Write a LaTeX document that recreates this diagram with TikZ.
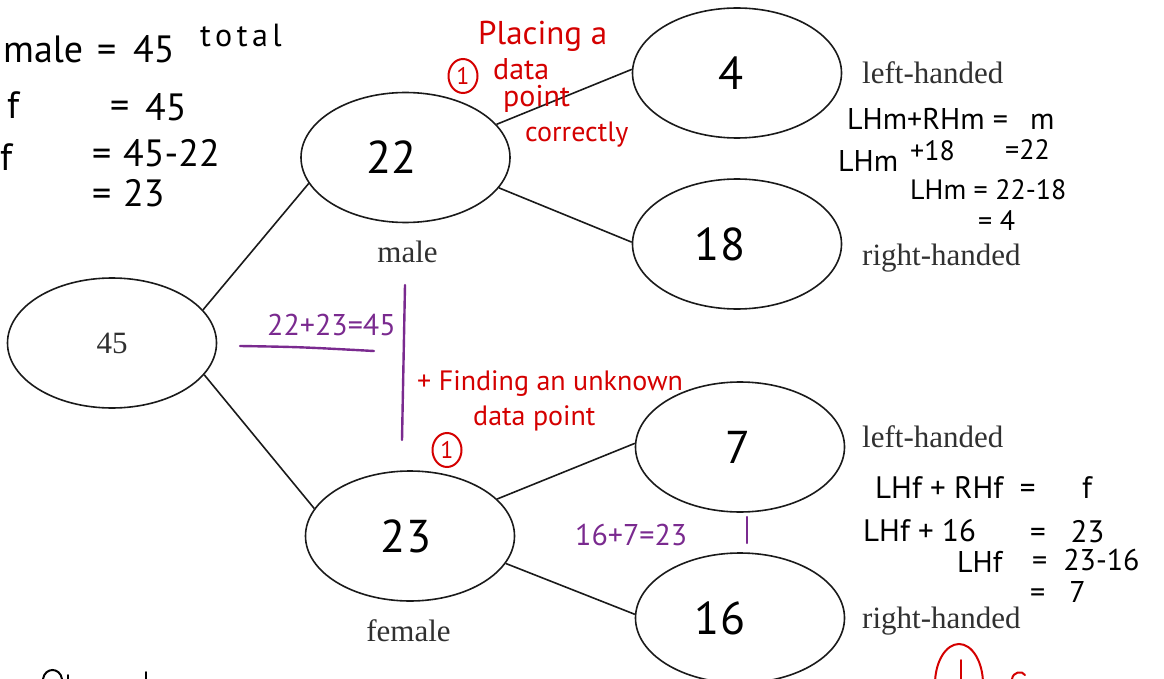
\documentclass[tikz,border=0pt]{standalone}
\usepackage{fontspec}
\usetikzlibrary{shapes.geometric}
\newfontfamily\hwfont{PT Sans}
\newfontfamily\hwwide{PT Sans}[LetterSpace=14]
\newfontfamily\prfont{Liberation Serif}
\definecolor{hred}{HTML}{D40000}
\definecolor{hpurple}{HTML}{7A2A8F}
\definecolor{prgray}{HTML}{303030}
\definecolor{inkblack}{HTML}{1A1A1A}
\tikzset{
  oval/.style={ellipse, draw=inkblack, line width=1.6pt, minimum width=209pt,
    minimum height=130pt, inner sep=0pt, text=black,
    font=\hwfont\fontsize{46}{46}\selectfont},
  oval45/.style={oval, font=\prfont\fontsize{31}{31}\selectfont, text=prgray},
  branch/.style={line width=1.6pt, draw=inkblack},
  prlabel/.style={font=\prfont\fontsize{31}{31}\selectfont, text=prgray,
    inner sep=0pt, anchor=base west},
  hw/.style={font=\hwfont\fontsize{#1}{#1}\selectfont, inner sep=0pt,
    anchor=base west, text=black},
  hw/.default=30,
  redhw/.style={hw=#1, text=hred},
  redhw/.default=30,
  purhw/.style={hw=#1, text=hpurple},
  purhw/.default=30,
  redpen/.style={draw=hred, line width=2pt, line cap=round},
  purpen/.style={draw=hpurple, line width=2.4pt, line cap=round},
  blkpen/.style={draw=black, line width=2pt, line cap=round},
  ringone/.style={ellipse, draw=hred, line width=2pt, inner sep=0pt,
    minimum width=29pt, minimum height=34pt, text=hred,
    font=\hwfont\fontsize{24}{24}\selectfont},
}
\begin{document}
\begin{tikzpicture}[x=1pt,y=-1pt]
\useasboundingbox (0,0) rectangle (1164,679);
\clip (0,0) rectangle (1164,679);

% tree nodes
\node[oval45] (n45) at (112,343) {45};
\node[oval] (n22) at (405.5,157.5) {22\kern28pt};
\node[oval] (n23) at (410,536) {23\kern8pt};
\node[oval] (n4) at (737,73) {4\kern12pt};
\node[oval] (n18) at (737,244) {18\kern34pt};
\node[oval] (n7) at (740,447) {7\kern4pt};
\node[oval] (n16) at (740,618) {16\kern40pt};

% branches
\draw[branch] (n45.20) -- (n22.195);
\draw[branch] (n45.-19) -- (n23.164);
\draw[branch] (n22.20) -- (n4.178);
\draw[branch] (n22.-18) -- (n18.179);
\draw[branch] (n23.23) -- (n7.178);
\draw[branch] (n23.-16) -- (n16.178);

% printed labels
\node[prlabel, anchor=base] (lmale) at (407.5,262) {male};
\node[prlabel, anchor=base] (lfemale) at (408.5,641) {female};
\node[prlabel] (lh1) at (862,84) {left-handed};
\node[prlabel] (rh1) at (862,265) {right-handed};
\node[prlabel] (lh2) at (862,447) {left-handed};
\node[prlabel] (rh2) at (862,628) {right-handed};

% top-left working
\node[hw=38] (t1a) at (3,63) {male};
\node[hw=38] (t1b) at (97,63) {=};
\node[hw=38] (t1c) at (133,63) {45};
\node[hw=32, font=\hwwide\fontsize{32}{32}\selectfont] (t1d) at (200,47) {total};
\node[hw=38] (t2a) at (7,119) {f};
\node[hw=38] (t2b) at (110,119) {=};
\node[hw=38] (t2c) at (145,121) {45};
\node[hw=38] (t3a) at (0,171) {f};
\node[hw=38] (t3b) at (92,167) {=};
\node[hw=38] (t3c) at (123,167) {45-22};
\node[hw=38] (t4b) at (92,207) {=};
\node[hw=38] (t4c) at (123,207) {23};

% right working, male
\node[hw=30] (m1a) at (847,130) {LHm+RHm =};
\node[hw=30] (m1b) at (1030,130) {m};
\node[hw=30] (m2a) at (838,172) {LHm};
\node[hw=28] (m2b) at (910,161) {+18};
\node[hw=28] (m2c) at (1005,160) {=22};
\node[hw=28] (m3) at (910,200) {LHm = 22-18};
\node[hw=28] (m4) at (978,230) {= 4};

% right working, female
\node[hw=31] (f1a) at (875,498) {LHf + RHf \ =};
\node[hw=31] (f1b) at (1082,498) {f};
\node[hw=31] (f2a) at (863,541) {LHf + 16};
\node[hw=31] (f2b) at (1030,542) {= \ \ 23};
\node[hw=30] (f3a) at (957,572) {LHf};
\node[hw=30] (f3b) at (1032,570) {= \ 23-16};
\node[hw=30] (f4) at (1030,602) {= \ \ 7};

% red marking
\node[redhw=33] (r1) at (478,45) {Placing a};
\node[redhw=30] (r2) at (493,80) {data};
\node[redhw=30] (r3) at (503,107) {point};
\node[redhw=28] (r4) at (525,142) {correctly};
\node[ringone] (c1) at (463,76) {1};
\node[redhw=28] (r5) at (417,390) {+ Finding an unknown};
\node[redhw=28] (r6) at (473,425) {data point};
\node[ringone] (c2) at (447,450) {1};
\node[ringone, minimum width=48pt, minimum height=80pt] (c3) at (959,684) {};
\draw[redpen] (961,660) -- (961,690);
\draw[redpen] (1012,679) .. controls (1013,672) and (1022,670) .. (1025,675);

% purple marking
\node[purhw=30] (p1) at (267,335) {22+23=45};
\draw[purpen] (240,346) .. controls (300,347) .. (374,351);
\draw[purpen] (405,285) -- (402,440);
\node[purhw=30] (p2) at (575,545) {16+7=23};
\draw[purpen] (747,517) -- (747,543);

% partial black writing at bottom edge
\draw[blkpen] (43,679) .. controls (45,667) and (60,667) .. (62,679);
\draw[blkpen] (68,675) -- (68,679);
\draw[blkpen] (146,672) -- (146,679);
\end{tikzpicture}
\end{document}
